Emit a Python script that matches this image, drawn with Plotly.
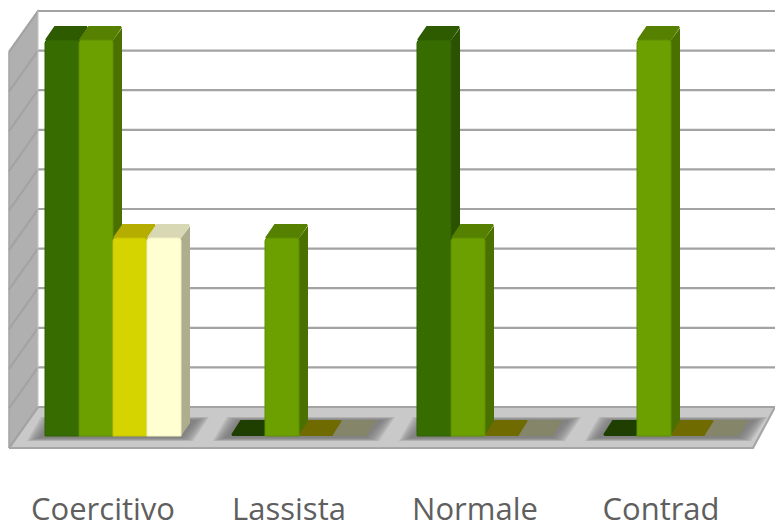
import plotly.graph_objects as go

# Chart data
categories = ["Coercitivo", "Lassista", "Normale", "Contrad"]
series_a = [2, 0, 2, 0]
series_b = [2, 1, 1, 2]
series_c = [1, 0, 0, 0]
series_d = [1, 0, 0, 0]
grid_values = [0, 0.2, 0.4, 0.6, 0.8, 1.0, 1.2, 1.4, 1.6, 1.8, 2.0]

# Face colours per series: front, bevel edge, top, side, flat plate for empty values
front_colors = ["#376c00", "#6c9f00", "#d6d400", "#ffffd2"]
edge_colors = ["#2f6000", "#5f8f00", "#c6c400", "#f0f0c0"]
top_colors = ["#2e5a00", "#568000", "#b5ad00", "#d9d8b4"]
side_colors = ["#2b5200", "#4a7000", "#9c9a00", "#aeae8e"]
plate_colors = ["#1f3f00", "#4a7000", "#6f6b00", "#85856a"]

# Axis scale: pixels per unit on each axis
W, H = 775, 522
PX_PER_GROUP = 186.0
PX_PER_VALUE = 198.0
PLOT_BOTTOM = 488
BASE_PX_X = 113.0
BASE_PX_Y = 436.0


def ux(px):
    return px / PX_PER_GROUP


def uy(px):
    return px / PX_PER_VALUE


x_range = [ux(-BASE_PX_X), ux(W - BASE_PX_X)]
y_range = [uy(BASE_PX_Y - PLOT_BOTTOM), uy(BASE_PX_Y)]

# Depth of the box and of the bars along the oblique projection
box_dx, box_dy = ux(29), uy(41)
box_left = x_range[0] + ux(9)
floor_front = uy(-12)
floor_back = floor_front + box_dy
bar_dx, bar_dy = ux(9), uy(13)
bar_w = ux(34)

fig = go.Figure()


def polygon(xs, ys, fill, line=None, width=0):
    fig.add_trace(go.Scatter(
        x=list(xs) + [xs[0]], y=list(ys) + [ys[0]], mode="lines", fill="toself",
        fillcolor=fill, line=dict(color=line or fill, width=width),
        hoverinfo="skip", showlegend=False, xaxis="x", yaxis="y",
    ))


def segment(xs, ys, color, width):
    fig.add_trace(go.Scatter(
        x=xs, y=ys, mode="lines", line=dict(color=color, width=width),
        hoverinfo="skip", showlegend=False, xaxis="x", yaxis="y",
    ))


top_value = grid_values[-1]
back_left = box_left + box_dx

# Side wall
polygon([box_left, back_left, back_left, box_left],
        [floor_front + top_value, floor_back + top_value, floor_back, floor_front],
        "#b0b0b0")

# Floor slab
floor_right_front = x_range[0] + ux(753)
polygon([box_left, back_left, x_range[1], floor_right_front],
        [floor_front, floor_back, floor_back, floor_front], "#c9c9c9")

# Gridlines on the back and side walls
for v in grid_values:
    segment([box_left, back_left, x_range[1]],
            [floor_front + v, floor_back + v, floor_back + v], "#a3a3a3", 2.2)
segment([back_left, back_left], [floor_back, floor_back + top_value], "#c4c4c4", 1)
segment([box_left, box_left], [floor_front, floor_front + top_value], "#a3a3a3", 1.5)
segment([box_left, floor_right_front, x_range[1]],
        [floor_front, floor_front, floor_back], "#a6a6a6", 2.2)

# Soft floor shadow under each group, built from stacked translucent layers
for g in range(len(categories)):
    for inset in (0, 2, 4, 6, 8, 10, 12):
        polygon(
            [g + ux(-86 + inset), g + ux(-72 + inset), g + ux(96 - inset), g + ux(80 - inset)],
            [uy(-5 + inset * 0.25), uy(19 - inset * 0.25), uy(19 - inset * 0.25), uy(-5 + inset * 0.25)],
            "rgba(115,115,115,0.2)",
        )

# Top and side faces, painted left to right so nearer faces overlap correctly
all_series = [series_a, series_b, series_c, series_d]
for g in range(len(categories)):
    for s, values in enumerate(all_series):
        v = values[g]
        left = g + (s - 2) * bar_w
        right = left + bar_w
        inner = ux(1)
        if v > 0:
            polygon([right, right + bar_dx, right + bar_dx, right],
                    [0, bar_dy, v + bar_dy - uy(1), v], side_colors[s])
            polygon([left + inner, left + bar_dx + inner, right + bar_dx - inner, right - inner],
                    [v, v + bar_dy, v + bar_dy, v], top_colors[s], width=2)
        else:
            polygon([left + inner, left + bar_dx + inner, right + bar_dx - inner, right - inner],
                    [uy(1), bar_dy + uy(2), bar_dy + uy(2), uy(1)], plate_colors[s], width=2)

# Front faces on the overlaid axes, above all the depth faces; empty values draw none
for s, values in enumerate(all_series):
    fig.add_trace(go.Bar(
        x=list(range(len(categories))), y=[v if v > 0 else None for v in values],
        marker=dict(color=front_colors[s], cornerradius=3,
                    line=dict(width=1, color=edge_colors[s])),
        xaxis="x2", yaxis="y2", showlegend=False, hoverinfo="skip",
    ))

fig.update_layout(
    width=W, height=H, autosize=False,
    margin=dict(l=0, r=0, t=0, b=H - PLOT_BOTTOM),
    paper_bgcolor="white", plot_bgcolor="white",
    barmode="group", bargap=1 - 4 * bar_w, bargroupgap=0,
    xaxis=dict(
        range=x_range, showgrid=False, zeroline=False, showline=False, ticks="",
        automargin=False, ticklen=0,
        tickmode="array", tickvals=[g - ux(10) for g in range(len(categories))],
        ticktext=categories, tickangle=0,
        tickfont=dict(family="Open Sans", size=31, color="#5f5f5f"),
    ),
    yaxis=dict(range=y_range, showgrid=False, zeroline=False, showticklabels=False,
               ticks="", automargin=False),
    xaxis2=dict(range=x_range, overlaying="x", visible=False),
    yaxis2=dict(range=y_range, overlaying="y", visible=False),
)

fig.write_html("out.html", config=dict(displayModeBar=False))
